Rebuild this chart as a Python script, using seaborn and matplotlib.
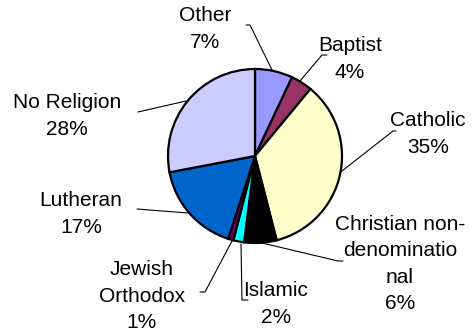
import numpy as np
import matplotlib
matplotlib.use("Agg")
import matplotlib.pyplot as plt
import seaborn as sns

# ---- data ----
categories = ["Other", "Baptist", "Catholic", "Christian non-denominational",
              "Islamic", "Jewish Orthodox", "Lutheran", "No Religion"]
values = [7, 4, 35, 6, 2, 1, 17, 28]
display_names = ["Other", "Baptist", "Catholic", "Christian non-\ndenominatio\nnal",
                 "Islamic", "Jewish\nOrthodox", "Lutheran", "No Religion"]
colors = ["#9999FF", "#993366", "#FFFFCC", "#000000",
          "#00FFFF", "#660066", "#0066CC", "#CCCCFF"]

# ---- layout (pixel coords, y from top) ----
W, H = 472, 335
CX, CY, R = 255, 156, 87
text_pos = [(205, 29), (350, 59), (428, 134), (400, 264),
            (276, 304), (142, 296), (81, 214), (67, 116)]
# leader line points
leader = [((272, 70), (250, 25), (246, 25)),
          ((300, 81), (322, 55), (327, 55)),
          ((342, 171), (393, 131), (396, 131)),
          ((262, 243), (338, 261), (343, 261)),
          ((241, 244), (242, 300), (248, 300)),
          ((232, 241), (205, 292), (200, 292)),
          ((188, 213), (137, 209), (137, 209)),
          ((186, 101), (138, 112), (138, 112))]

sns.set_theme(style="white")
plt.rcParams["font.family"] = ["Liberation Sans", "DejaVu Sans"]

fig = plt.figure(figsize=(W / 100, H / 100), dpi=100)
ax = fig.add_axes([0, 0, 1, 1])

wedges, _ = ax.pie(values, colors=colors, startangle=90, counterclock=False,
                   center=(CX, H - CY), radius=R, frame=True,
                   wedgeprops=dict(edgecolor="black", linewidth=1.6))
ax.set_xlim(0, W)
ax.set_ylim(0, H)
ax.set_aspect("equal")
ax.axis("off")

total = sum(values)
for i, (name, v) in enumerate(zip(display_names, values)):
    pct = round(100 * v / total)
    tx, ty = text_pos[i]
    ax.text(tx, H - ty, f"{name}\n{pct}%", ha="center", va="center",
            multialignment="center", fontsize=15, linespacing=1.48,
            color="black")
    pts = leader[i]
    xs = [p[0] for p in pts]
    ys = [H - p[1] for p in pts]
    ax.plot(xs, ys, color="black", linewidth=0.8, zorder=0.5)

fig.savefig("out.png", dpi=100)
